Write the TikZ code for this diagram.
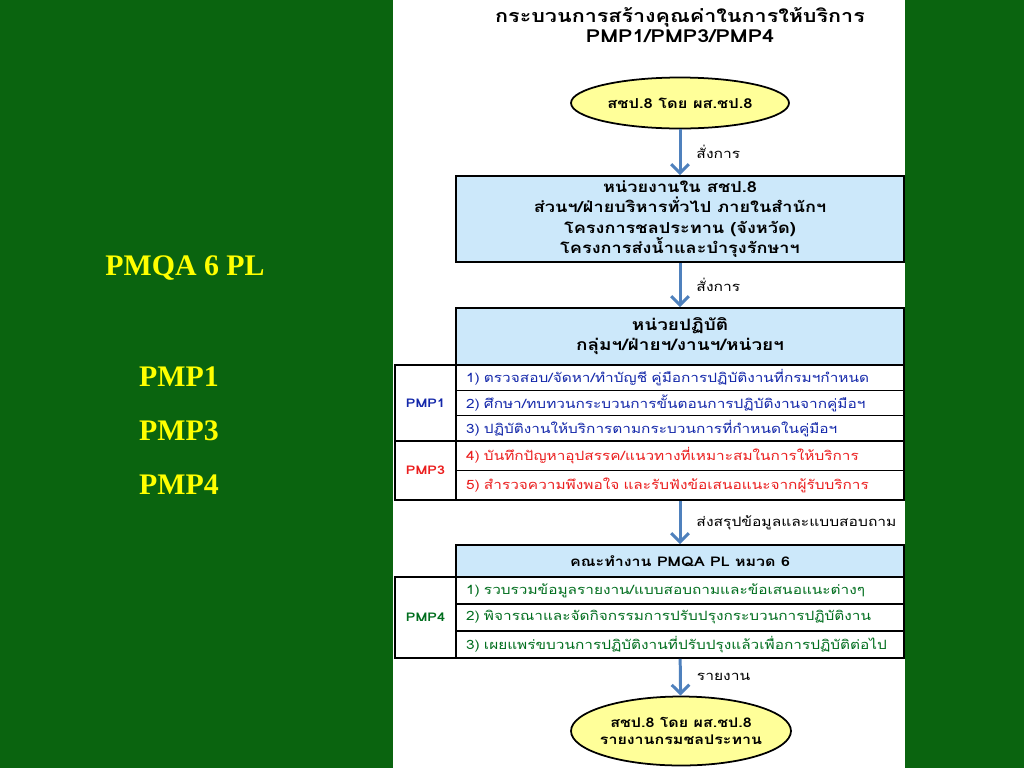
\documentclass[tikz,border=0pt]{standalone}
\usepackage{fontspec}
\setmainfont{Liberation Serif}
\newfontfamily\thaifont[Script=Thai,FakeStretch=1.2]{Loma}
\usetikzlibrary{arrows.meta,shapes.geometric}
\definecolor{bggreen}{RGB}{10,100,15}
\definecolor{headblue}{RGB}{204,232,250}
\definecolor{ovalyellow}{RGB}{255,255,153}
\definecolor{arrowblue}{RGB}{79,129,189}
\definecolor{rowblue}{RGB}{20,40,170}
\definecolor{rowred}{RGB}{235,30,30}
\definecolor{rowgreen}{RGB}{0,110,30}
\definecolor{sideyellow}{RGB}{255,255,0}

\begin{document}
\begin{tikzpicture}[x=0.02cm,y=-0.02cm,
        oval/.style={ellipse,draw=black,line width=1pt,fill=ovalyellow,align=center,inner sep=0pt,font=\thaifont\bfseries\fontsize{7.8}{10}\selectfont},
        headbox/.style={rectangle,draw=black,line width=1.1pt,fill=headblue,minimum width=8.96cm,inner sep=0pt,align=center,font=\thaifont\bfseries\fontsize{8.6}{11.6}\selectfont},
        rowbox/.style={rectangle,draw=black,line width=0.9pt,fill=white,text width=8.56cm,inner xsep=0.2cm,inner ysep=0pt,align=left,font=\thaifont\fontsize{7.3}{9}\selectfont},
        pmpcell/.style={rectangle,draw=black,line width=0.9pt,fill=white,minimum width=1.22cm,inner sep=0pt,font=\thaifont\bfseries\fontsize{6.8}{8}\selectfont},
        flow/.style={draw=arrowblue,line width=1.7pt,-{Straight Barb[length=5pt,width=10pt]}},
        flowlabel/.style={right,inner sep=0pt,xshift=0.3cm,text=black,font=\thaifont\fontsize{7.4}{9}\selectfont},
        sidetext/.style={text=sideyellow,font=\bfseries\fontsize{17}{20}\selectfont}]
        \fill[bggreen] (0,0) rectangle (1024,768);
        \fill[white] (393,0) rectangle (905,768);
        \useasboundingbox (0,0) rectangle (1024,768);

        \node[sidetext] (pmqa) at (185,268) {PMQA 6 PL};
        \node[sidetext] (sidea) at (179,377) {PMP1};
        \node[sidetext] (sideb) at (179,431) {PMP3};
        \node[sidetext] (sidec) at (179,485) {PMP4};

        \node[align=center,font=\thaifont\bfseries\fontsize{10.2}{9}\selectfont] (title) at (680,25) {กระบวนการสร้างคุณค่าในการให้บริการ\\PMP1/PMP3/PMP4};
        \node[oval,minimum width=4.36cm,minimum height=1.02cm] (start) at (680,103) {สชป.8 โดย ผส.ชป.8};
        \node[headbox,minimum height=1.72cm] (unit) at (680,219) {หน่วยงานใน สชป.8\\ส่วนฯ/ฝ่ายบริหารทั่วไป ภายในสำนักฯ\\โครงการชลประทาน (จังหวัด)\\โครงการส่งน้ำและบำรุงรักษาฯ};
        \node[headbox,minimum height=1.14cm,font=\thaifont\bfseries\fontsize{9}{11.4}\selectfont] (work) at (680,336.5) {หน่วยปฏิบัติ\\กลุ่มฯ/ฝ่ายฯ/งานฯ/หน่วยฯ};

        \node[rowbox,text=rowblue,minimum height=0.507cm] (pa) at (680,377.7) {1) ตรวจสอบ/จัดหา/ทำบัญชี คู่มือการปฏิบัติงานที่กรมฯกำหนด};
        \node[rowbox,text=rowblue,minimum height=0.507cm] (pb) at (680,403) {2) ศึกษา/ทบทวนกระบวนการขั้นตอนการปฏิบัติงานจากคู่มือฯ};
        \node[rowbox,text=rowblue,minimum height=0.507cm] (pc) at (680,428.3) {3) ปฏิบัติงานให้บริการตามกระบวนการที่กำหนดในคู่มือฯ};
        \node[rowbox,text=rowred,minimum height=0.59cm] (pd) at (680,455.8) {4) บันทึกปัญหาอุปสรรค/แนวทางที่เหมาะสมในการให้บริการ};
        \node[rowbox,text=rowred,minimum height=0.59cm] (pe) at (680,485.3) {5) สำรวจความพึงพอใจ และรับฟังข้อเสนอแนะจากผู้รับบริการ};
        \node[pmpcell,text=rowblue,minimum height=1.52cm] (pmpa) at (425.5,403) {PMP1};
        \node[pmpcell,text=rowred,minimum height=1.18cm] (pmpb) at (425.5,470.5) {PMP3};

        \node[headbox,minimum height=0.64cm,font=\thaifont\bfseries\fontsize{7.6}{9}\selectfont] (team) at (680,561) {คณะทำงาน PMQA PL หมวด 6};
        \node[rowbox,text=rowgreen,minimum height=0.54cm] (ta) at (680,590.5) {1) รวบรวมข้อมูลรายงาน/แบบสอบถามและข้อเสนอแนะต่างๆ};
        \node[rowbox,text=rowgreen,minimum height=0.54cm] (tb) at (680,617.5) {2) พิจารณาและจัดกิจกรรมการปรับปรุงกระบวนการปฏิบัติงาน};
        \node[rowbox,text=rowgreen,minimum height=0.54cm] (tc) at (680,644.5) {3) เผยแพร่ขบวนการปฏิบัติงานที่ปรับปรุงแล้วเพื่อการปฏิบัติต่อไป};
        \node[pmpcell,text=rowgreen,minimum height=1.62cm] (pmpc) at (425.5,617.5) {PMP4};

        \node[oval,minimum width=4.4cm,minimum height=1.38cm,inner xsep=-0.3cm,font=\thaifont\bfseries\fontsize{7.6}{10}\selectfont] (finish) at (681,731) {สชป.8 โดย ผส.ชป.8\\รายงานกรมชลประทาน};

        \draw[flow] (start) -- (unit) node[midway,flowlabel] {สั่งการ};
        \draw[flow] (unit) -- (work) node[midway,flowlabel] {สั่งการ};
        \draw[flow] (pe) -- (team) node[midway,flowlabel] {ส่งสรุปข้อมูลและแบบสอบถาม};
        \draw[flow] (tc) -- (finish) node[midway,flowlabel] {รายงาน};
\end{tikzpicture}
\end{document}
